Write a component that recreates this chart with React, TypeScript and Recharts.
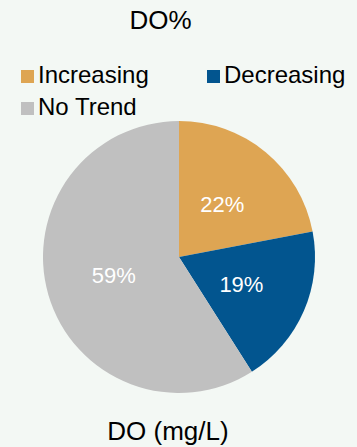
import React from "react";
import { Pie, PieChart } from "recharts";

const categories = ["Increasing", "Decreasing", "No Trend"];
const shares = [22, 19, 59];
const colors = ["#dea553", "#02558f", "#c0c0c0"];

const data = categories.map((name, i) => ({
  name,
  value: shares[i],
  fill: colors[i],
}));

const FONT = "'Liberation Sans', Arial, sans-serif";
const RAD = Math.PI / 180;

const renderLabel = (props: any) => {
  const { cx, cy, midAngle, outerRadius, percent } = props;
  const r = outerRadius * 0.5;
  const x = cx + r * Math.cos(-midAngle * RAD);
  const y = cy + r * Math.sin(-midAngle * RAD);
  return (
    <text
      x={x}
      y={y}
      fill="#fff"
      textAnchor="middle"
      dominantBaseline="central"
      fontSize={22}
      fontFamily={FONT}
    >
      {`${Math.round(percent * 100)}%`}
    </text>
  );
};

const LegendBox = () => (
  <div
    style={{
      position: "absolute",
      top: 59,
      left: 21,
      width: 372,
      display: "flex",
      flexWrap: "wrap",
    }}
  >
    {data.map((d) => (
      <div
        key={d.name}
        style={{
          width: 186,
          height: 32,
          lineHeight: "32px",
          display: "flex",
          alignItems: "flex-start",
        }}
      >
        <span
          style={{
            display: "inline-block",
            width: 13,
            height: 13,
            marginTop: 11,
            background: d.fill,
            marginRight: 4,
            flexShrink: 0,
          }}
        />
        <span
          style={{
            fontSize: 24,
            fontFamily: FONT,
            color: "#000",
            whiteSpace: "nowrap",
          }}
        >
          {d.name}
        </span>
      </div>
    ))}
  </div>
);

const App = () => {
  return (
    <div
      style={{
        position: "absolute",
        left: 0,
        top: 0,
        width: 357,
        height: 447,
        background: "#f3f8f4",
        overflow: "hidden",
      }}
    >
      <PieChart
        width={357}
        height={447}
        margin={{ top: 0, right: 0, bottom: 0, left: 0 }}
      >
        <Pie
          data={data}
          dataKey="value"
          nameKey="name"
          cx={179}
          cy={257}
          outerRadius={136}
          startAngle={90}
          endAngle={-270}
          stroke="none"
          label={renderLabel}
          labelLine={false}
          isAnimationActive={false}
        />
      </PieChart>
      <div
        style={{
          position: "absolute",
          top: 7,
          left: 0,
          width: 321,
          textAlign: "center",
          fontSize: 26,
          lineHeight: "26px",
          fontFamily: FONT,
          color: "#000",
        }}
      >
        DO%
      </div>
      <LegendBox />
      <div
        style={{
          position: "absolute",
          top: 418,
          left: 0,
          width: 336,
          textAlign: "center",
          fontSize: 26,
          lineHeight: "26px",
          fontFamily: FONT,
          color: "#000",
        }}
      >
        DO (mg/L)
      </div>
    </div>
  );
};

export default App;
